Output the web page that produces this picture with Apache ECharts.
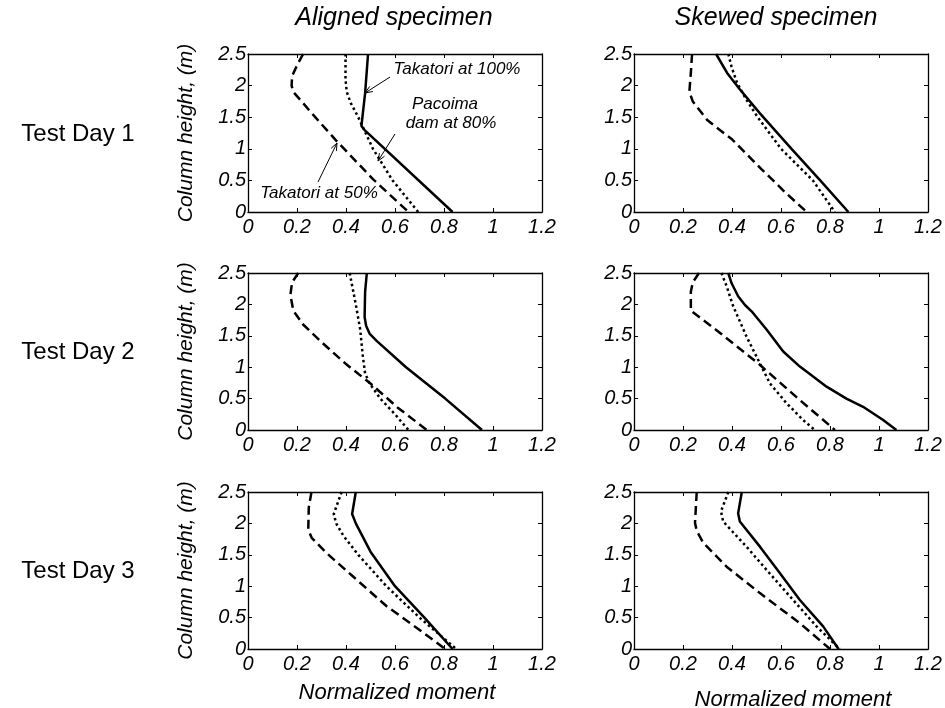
<!DOCTYPE html>
<html><head><meta charset="utf-8">
<script src="https://cdn.jsdelivr.net/npm/echarts/dist/echarts.min.js"></script>
<style>html,body{margin:0;padding:0;background:#fff}#c{width:945px;height:708px}</style>
</head><body><div id="c"></div>
<script>
// ---- tick labels ----
const xTickLabels = ['0','0.2','0.4','0.6','0.8','1','1.2'];
const yTickLabels = ['0','0.5','1','1.5','2','2.5'];
const columnTitles = ['Aligned specimen','Skewed specimen'];
const rowTitles = ['Test Day 1','Test Day 2','Test Day 3'];
const seriesNames = ['Takatori at 100%','Pacoima dam at 80%','Takatori at 50%'];

// ---- data: [normalized moment, column height] ----
const day1AlignedT100 = [[0.49,2.5],[0.478,1.88],[0.463,1.36],[0.475,1.3],[0.835,0]];
const day1AlignedP80  = [[0.398,2.5],[0.398,2.1],[0.403,1.9],[0.42,1.72],[0.45,1.5],[0.51,1.0],[0.59,0.5],[0.695,0]];
const day1AlignedT50  = [[0.225,2.5],[0.2,2.32],[0.18,2.15],[0.178,2.0],[0.185,1.9],[0.27,1.52],[0.36,1.13],[0.51,0.52],[0.655,0]];

const day1SkewedT100 = [[0.335,2.5],[0.38,2.2],[0.43,1.95],[0.514,1.56],[0.643,1.0],[0.76,0.5],[0.875,0]];
const day1SkewedP80  = [[0.385,2.5],[0.398,2.3],[0.42,2.05],[0.455,1.8],[0.505,1.5],[0.6,1.0],[0.73,0.5],[0.82,0]];
const day1SkewedT50  = [[0.237,2.5],[0.232,2.2],[0.226,1.9],[0.24,1.75],[0.3,1.45],[0.4,1.15],[0.52,0.68],[0.62,0.3],[0.705,0]];

const day2AlignedT100 = [[0.485,2.5],[0.478,2.2],[0.476,1.8],[0.482,1.66],[0.497,1.53],[0.525,1.42],[0.645,1.0],[0.805,0.5],[0.955,0]];
const day2AlignedP80  = [[0.415,2.5],[0.44,2.0],[0.458,1.6],[0.468,1.2],[0.478,0.9],[0.495,0.75],[0.54,0.5],[0.6,0.25],[0.655,0]];
const day2AlignedT50  = [[0.205,2.5],[0.18,2.35],[0.173,2.15],[0.185,1.9],[0.225,1.68],[0.3,1.4],[0.4,1.05],[0.5,0.74],[0.61,0.36],[0.73,0]];

const day2SkewedT100 = [[0.385,2.5],[0.398,2.34],[0.425,2.13],[0.453,1.99],[0.48,1.89],[0.541,1.6],[0.609,1.25],[0.677,1.01],[0.731,0.85],[0.786,0.69],[0.867,0.5],[0.935,0.37],[1.017,0.16],[1.071,0]];
const day2SkewedP80  = [[0.357,2.5],[0.378,2.29],[0.405,1.97],[0.459,1.49],[0.514,1.06],[0.555,0.74],[0.622,0.43],[0.69,0.16],[0.738,0]];
const day2SkewedT50  = [[0.265,2.5],[0.24,2.35],[0.232,2.2],[0.232,1.9],[0.35,1.55],[0.51,1.05],[0.67,0.5],[0.82,0]];

const day3AlignedT100 = [[0.44,2.5],[0.425,2.15],[0.44,2.0],[0.5,1.55],[0.6,1.0],[0.72,0.5],[0.835,0]];
const day3AlignedP80  = [[0.382,2.5],[0.35,2.15],[0.36,2.0],[0.39,1.8],[0.45,1.5],[0.565,1.0],[0.7,0.5],[0.85,0]];
const day3AlignedT50  = [[0.259,2.5],[0.248,2.25],[0.246,1.9],[0.26,1.77],[0.32,1.53],[0.43,1.15],[0.566,0.68],[0.702,0.3],[0.805,0]];

const day3SkewedT100 = [[0.44,2.5],[0.425,2.16],[0.432,2.03],[0.514,1.63],[0.595,1.21],[0.677,0.78],[0.772,0.36],[0.835,0]];
const day3SkewedP80  = [[0.385,2.5],[0.355,2.19],[0.364,2.03],[0.459,1.63],[0.541,1.26],[0.636,0.84],[0.745,0.36],[0.84,0]];
const day3SkewedT50  = [[0.256,2.5],[0.249,2.01],[0.256,1.88],[0.283,1.69],[0.378,1.31],[0.514,0.89],[0.677,0.41],[0.8,0]];

const panels = [
  [day1AlignedT100, day1AlignedP80, day1AlignedT50],
  [day1SkewedT100, day1SkewedP80, day1SkewedT50],
  [day2AlignedT100, day2AlignedP80, day2AlignedT50],
  [day2SkewedT100, day2SkewedP80, day2SkewedT50],
  [day3AlignedT100, day3AlignedP80, day3AlignedT50],
  [day3SkewedT100, day3SkewedP80, day3SkewedT50]
];

// ---- layout ----
const FONT = '"Liberation Sans", Arial, Helvetica, sans-serif';
const colLeft = [248, 634];
const rowTop = [54, 273, 492];
const rowH = [158, 157, 157];
const plotW = 294;

const lineStyles = [
  {color:'#000', width:2.5, type:'solid'},
  {color:'#000', width:2.5, type:[2.5,3], cap:'butt'},
  {color:'#000', width:2.5, type:[9,5], cap:'butt'}
];

const xMin = parseFloat(xTickLabels[0]), xMax = parseFloat(xTickLabels[xTickLabels.length-1]);
const xInt = parseFloat(xTickLabels[1]) - xMin;
const yMin = parseFloat(yTickLabels[0]), yMax = parseFloat(yTickLabels[yTickLabels.length-1]);
const yInt = parseFloat(yTickLabels[1]) - yMin;

const grids = [], xAxes = [], yAxes = [], series = [];
const axisLine = {show:true, onZero:false, lineStyle:{color:'#000', width:1.3}};
const axisTick = {show:true, inside:true, length:4, lineStyle:{color:'#000', width:1}};
const lbl = {color:'#000', fontFamily:FONT, fontStyle:'italic', fontSize:20};

panels.forEach((p, i) => {
  const r = Math.floor(i/2), c = i%2;
  grids.push({left:colLeft[c], top:rowTop[r], width:plotW, height:rowH[r], containLabel:false});
  xAxes.push({type:'value', gridIndex:i, position:'bottom', min:xMin, max:xMax, interval:xInt,
    axisLine, axisTick, splitLine:{show:false},
    axisLabel:Object.assign({margin:5, showMinLabel:true, showMaxLabel:true,
      formatter:(v)=>xTickLabels[Math.round((v-xMin)/xInt)]}, lbl)});
  xAxes.push({type:'value', gridIndex:i, position:'top', min:xMin, max:xMax, interval:xInt,
    axisLine, axisTick, splitLine:{show:false}, axisLabel:{show:false}});
  yAxes.push({type:'value', gridIndex:i, position:'left', min:yMin, max:yMax, interval:yInt,
    axisLine, axisTick, splitLine:{show:false},
    axisLabel:Object.assign({margin:2, showMinLabel:true, showMaxLabel:true,
      formatter:(v)=>yTickLabels[Math.round((v-yMin)/yInt)]}, lbl)});
  yAxes.push({type:'value', gridIndex:i, position:'right', min:yMin, max:yMax, interval:yInt,
    axisLine, axisTick, splitLine:{show:false}, axisLabel:{show:false}});
  p.forEach((d, k) => {
    series.push({type:'line', name:seriesNames[k], xAxisIndex:2*i, yAxisIndex:2*i, data:d,
      showSymbol:false, symbol:'none', smooth:false, lineStyle:lineStyles[k], silent:true, clip:true,
      z: 3});
  });
});

const graphic = [];
function txt(text, x, y, size, italic, rot) {
  graphic.push({type:'text', x, y, rotation: rot||0,
    style:{text, fill:'#000', font:(italic?'italic ':'') + size + 'px ' + FONT,
      textAlign:'center', verticalAlign:'middle'}});
}
function arrow(x1,y1,x2,y2) {
  graphic.push({type:'line', shape:{x1,y1,x2,y2}, style:{stroke:'#000', lineWidth:1}});
  const a = Math.atan2(y2-y1, x2-x1), L = 8, w = 0.38;
  graphic.push({type:'polyline', shape:{points:[
    [x2 - L*Math.cos(a-w), y2 - L*Math.sin(a-w)], [x2,y2],
    [x2 - L*Math.cos(a+w), y2 - L*Math.sin(a+w)]]},
    style:{stroke:'#000', lineWidth:1, fill:null}});
}

txt(columnTitles[0], 394, 18, 25, true);
txt(columnTitles[1], 776, 18, 25, true);
rowTitles.forEach((t, r) => txt(t, 78, rowTop[r] + rowH[r]/2 + 1, 24, false));
rowTop.forEach((t, r) => txt('Column height, (m)', 186, t + rowH[r]/2, 21, true, Math.PI/2));
txt('Normalized moment', 397, 693, 22, true);
txt('Normalized moment', 793, 700, 22, true);

// annotations (top-left panel)
txt(seriesNames[0], 457, 69, 17, true);
txt('Pacoima', 445, 104, 17, true);
txt('dam at 80%', 451, 123, 17, true);
txt(seriesNames[2], 319, 193, 17, true);
arrow(390, 77, 365, 93);
arrow(395, 134, 378, 161);
arrow(318, 182, 337, 143);

const chart = echarts.init(document.getElementById('c'), null, {renderer:'canvas'});
chart.setOption({animation:false, backgroundColor:'#fff', grid:grids, xAxis:xAxes, yAxis:yAxes, series, graphic});
</script></body></html>
